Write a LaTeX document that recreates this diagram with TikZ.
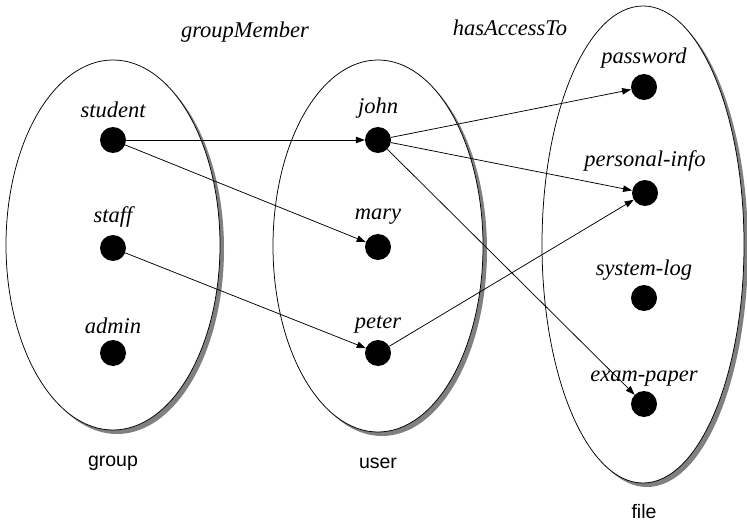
\documentclass[tikz,border=0pt]{standalone}
\usepackage{fontspec}
\setmainfont{Liberation Serif}
\newfontfamily\elemfont{Liberation Serif}
\newfontfamily\setnamefont{Liberation Sans}
\usetikzlibrary{shapes.geometric,arrows.meta,shadows}

\tikzset{
  setshape/.style={ellipse, draw=black, line width=0.75pt, fill=white, inner sep=0pt,
    drop shadow={shadow xshift=4pt, shadow yshift=-4pt, fill=black!50, opacity=1}},
  elem/.style={circle, fill=black, minimum size=26pt, inner sep=0pt},
  elemlabel/.style={anchor=base, inner sep=0pt, font=\elemfont\itshape\fontsize{22.5}{27}\selectfont},
  setlabel/.style={anchor=base, inner sep=0pt, font=\setnamefont\fontsize{19.5}{23}\selectfont},
  rellabel/.style={anchor=base, inner sep=0pt, font=\elemfont\itshape\fontsize{22.5}{27}\selectfont},
  rel/.style={line width=0.75pt, -{Triangle[length=9pt, width=6.5pt]}}
}

\begin{document}
\begin{tikzpicture}[x=1pt, y=-1pt]
\useasboundingbox (0,0) rectangle (747,524);

% the three sets
\node[setshape, minimum width=214pt, minimum height=370pt] (group) at (113,245) {};
\node[setshape, minimum width=210pt, minimum height=372pt] (user) at (378,246) {};
\node[setshape, minimum width=202pt, minimum height=477pt] (file) at (643,244.5) {};

% set names
\node[setlabel] (groupname) at (113,466) {group};
\node[setlabel] (username) at (378,468) {user};
\node[setlabel] (filename) at (644,518) {file};

% relation names
\node[rellabel] (gm) at (245,38) {groupMember};
\node[rellabel] (hat) at (510,36) {hasAccessTo};

% elements of group
\node[elem] (student) at (113,140) {};
\node[elem] (staff) at (113,248) {};
\node[elem] (admin) at (113,353) {};
\node[elemlabel] (lstudent) at (113,118) {student};
\node[elemlabel] (lstaff) at (113,222) {staff};
\node[elemlabel] (ladmin) at (113,333) {admin};

% elements of user
\node[elem] (john) at (378,140) {};
\node[elem] (mary) at (378,247) {};
\node[elem] (peter) at (378,353) {};
\node[elemlabel] (ljohn) at (378,114) {john};
\node[elemlabel] (lmary) at (378,219) {mary};
\node[elemlabel] (lpeter) at (378,328) {peter};

% elements of file
\node[elem] (password) at (644,87) {};
\node[elem] (personal) at (645,193) {};
\node[elem] (syslog) at (644,298) {};
\node[elem] (exam) at (644,404) {};
\node[elemlabel] (lpassword) at (644,64) {password};
\node[elemlabel] (lpersonal) at (645,166) {personal-info};
\node[elemlabel] (lsyslog) at (644,275) {system-log};
\node[elemlabel] (lexam) at (644,381) {exam-paper};

% groupMember
\draw[rel] (student) -- (john);
\draw[rel] (student) -- (mary);
\draw[rel] (staff) -- (peter);

% hasAccessTo
\draw[rel] (john) -- (password);
\draw[rel] (john) -- (personal);
\draw[rel] (john) -- (exam);
\draw[rel] (peter) -- (personal);
\end{tikzpicture}
\end{document}
